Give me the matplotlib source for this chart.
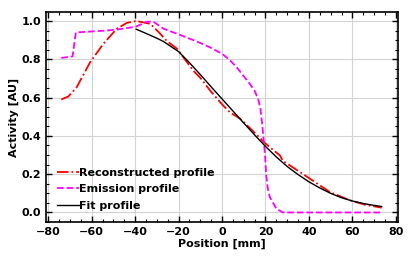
import matplotlib
matplotlib.use("Agg")
import matplotlib.pyplot as plt
from matplotlib.ticker import AutoMinorLocator

# values
recon_x = [-74, -70.7, -66.9, -60.7, -54.6, -48.4, -43.8, -39.5, -33, -29, -25.4, -20.7, -13.2,
           -10, -5, 0, 3.7, 8.3, 12.9, 20, 26.7, 28, 40.5, 49.7, 59, 66, 73.5]
recon_y = [0.59, 0.606, 0.654, 0.785, 0.881, 0.96, 0.99, 1.0, 0.985, 0.94, 0.895, 0.855, 0.74,
           0.703, 0.63, 0.565, 0.522, 0.49, 0.44, 0.36, 0.297, 0.27, 0.176, 0.106, 0.063, 0.04, 0.025]

emis_x = [-74, -68.8, -67.3, -53, -48.4, -39.7, -34.6, -31.6, -27, -20, -13.2, -10, -5.5, 0, 3.7,
          6.7, 12.9, 15, 16.7, 17.7, 18.4, 19, 19.8, 20.3, 21, 22, 25, 28, 40, 60, 73.5]
emis_y = [0.807, 0.815, 0.94, 0.95, 0.955, 0.97, 0.996, 0.996, 0.96, 0.93, 0.9, 0.885, 0.862, 0.829, 0.794,
          0.759, 0.67, 0.635, 0.59, 0.54, 0.47, 0.4, 0.3, 0.2, 0.13, 0.08, 0.02, 0.0, 0.0, 0.0, 0.0]

fit_x = [-39.5, -35, -30, -27, -20, -15, -10, -5, 0, 5, 10, 15, 20, 25, 30, 35, 40, 45, 50,
         55, 60, 65, 70, 73.5]
fit_y = [0.957, 0.935, 0.91, 0.893, 0.84, 0.782, 0.72, 0.656, 0.593, 0.53, 0.467, 0.405, 0.345,
         0.29, 0.24, 0.198, 0.16, 0.128, 0.1, 0.077, 0.06, 0.047, 0.037, 0.031]

plt.rcParams['font.weight'] = 'bold'
plt.rcParams['axes.labelweight'] = 'bold'
plt.rcParams['font.size'] = 8

fig = plt.figure(figsize=(4.15, 2.6), dpi=100)
ax = fig.add_axes([0.111, 0.146, 0.848, 0.808])

ax.plot(recon_x, recon_y, color='red', linestyle='-.', linewidth=1.3, label='Reconstructed profile')
ax.plot(emis_x, emis_y, color='magenta', linestyle='--', linewidth=1.3, label='Emission profile')
ax.plot(fit_x, fit_y, color='black', linestyle='-', linewidth=1.0, label='Fit profile')

ax.set_xlim(-81, 81)
ax.set_ylim(-0.05, 1.047)
ax.set_xticks([-80, -60, -40, -20, 0, 20, 40, 60, 80])
ax.set_yticks([0.0, 0.2, 0.4, 0.6, 0.8, 1.0])
ax.xaxis.set_minor_locator(AutoMinorLocator(4))
ax.yaxis.set_minor_locator(AutoMinorLocator(4))
ax.tick_params(which='both', direction='in', top=True, right=True)
ax.tick_params(which='major', length=4, width=1)
ax.tick_params(which='minor', length=2, width=0.8)
for s in ax.spines.values():
    s.set_linewidth(1.2)

ax.grid(True, color='lightgray', linewidth=0.8)
ax.set_xlabel('Position [mm]', labelpad=1)
ax.set_ylabel('Activity [AU]', labelpad=2)

ax.legend(loc='lower left', frameon=False, handlelength=2.0, handletextpad=0.0,
          labelspacing=0.6, borderaxespad=0.6, prop={'weight': 'bold', 'size': 8})

fig.savefig('out.png', dpi=100)
